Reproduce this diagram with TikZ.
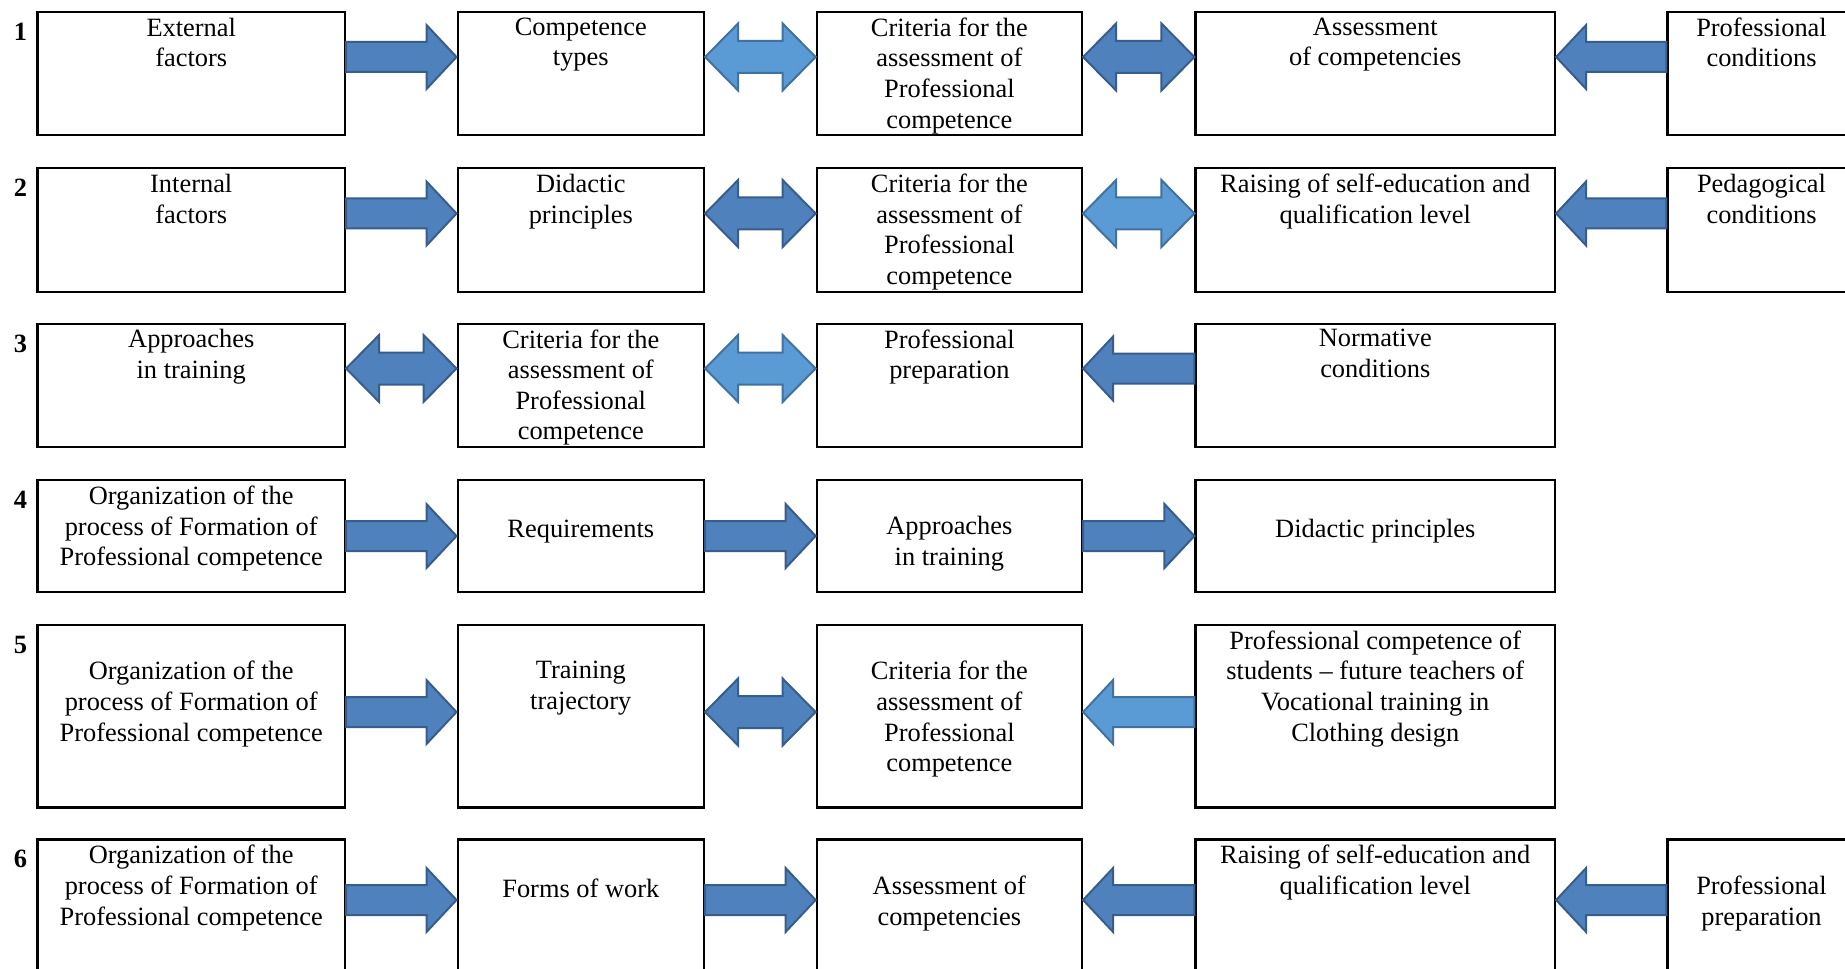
\documentclass[tikz,border=0pt]{standalone}
\usepackage{fontspec}
\setmainfont{Liberation Serif}
\usetikzlibrary{calc,fit}

\definecolor{darkfill}{HTML}{4F81BD}
\definecolor{darkline}{HTML}{385D8A}
\definecolor{lightfill}{HTML}{5B9BD5}
\definecolor{lightline}{HTML}{41719C}

% block arrow: style, tail, tip
\newcommand{\onearrow}[3]{%
  \draw[#1] let \p1=(#2), \p2=(#3), \n1={sign(\x2-\x1)} in
    ({\x1},{\y1+7.5pt}) -- ({\x2-(\n1)*15pt},{\y1+7.5pt}) -- ({\x2-(\n1)*15pt},{\y1+16pt})
    -- ({\x2},{\y1}) -- ({\x2-(\n1)*15pt},{\y1-16pt}) -- ({\x2-(\n1)*15pt},{\y1-7.5pt})
    -- ({\x1},{\y1-7.5pt}) -- cycle;}
% double block arrow: style, left tip, right tip
\newcommand{\twoarrow}[3]{%
  \draw[#1] let \p1=(#2), \p2=(#3) in
    ({\x1},{\y1}) -- ({\x1+16.5pt},{\y1+16.75pt}) -- ({\x1+16.5pt},{\y1+8pt})
    -- ({\x2-16.5pt},{\y1+8pt}) -- ({\x2-16.5pt},{\y1+16.75pt}) -- ({\x2},{\y1})
    -- ({\x2-16.5pt},{\y1-16.75pt}) -- ({\x2-16.5pt},{\y1-8pt}) -- ({\x1+16.5pt},{\y1-8pt})
    -- ({\x1+16.5pt},{\y1-16.75pt}) -- cycle;}

\tikzset{
  box/.style={draw, line width=1.1pt, inner sep=0pt},
  txt/.style={anchor=north, align=center, inner sep=0pt, yshift=-3.3pt,
    font=\fontsize{13.2}{15.3}\selectfont, execute at begin node=\strut},
  txtlow/.style={txt, yshift=-15.3pt},
  num/.style={txt, font=\fontsize{13.2}{15.3}\selectfont\bfseries},
  darkarrow/.style={fill=darkfill, draw=darkline, line width=1pt},
  lightarrow/.style={fill=lightfill, draw=lightline, line width=1pt}
}

\begin{document}
\begin{tikzpicture}[x=0.5pt, y=-0.5pt]
    \useasboundingbox (0,0) rectangle (1845,968);
    \fill[white] (0,0) rectangle (1845,968);
    \clip (0,0) rectangle (1845,968);

    % Boxes and row numbers
    \foreach \r/\ya/\yb/\last in {1/11.8/135.3/5, 2/168.3/291.8/5, 3/323.6/447.2/4,
        4/480/592/4, 5/624.8/807.5/4, 6/839.5/1022/5} {
        \node[num] (n\r) at (20.5,\ya) {\r};
        \foreach \c/\xa/\xb in {1/37.5/345, 2/457.6/704, 3/816.7/1082,
            4/1195.5/1555, 5/1667.5/1855.5} {
            \ifnum\c>\last\relax\else
                \node[box, fit={(\xa,\ya) (\xb,\yb)}] (r\r c\c) {};
            \fi
        }
    }

    % Row 1
    \node[txt] (t1c1) at (r1c1.north) {External\\factors};
    \node[txt] (t1c2) at (r1c2.north) {Competence\\types};
    \node[txt] (t1c3) at (r1c3.north) {Criteria for the\\assessment of\\Professional\\competence};
    \node[txt] (t1c4) at (r1c4.north) {Assessment\\of competencies};
    \node[txt] (t1c5) at (r1c5.north) {Professional\\conditions};

    % Row 2
    \node[txt] (t2c1) at (r2c1.north) {Internal\\factors};
    \node[txt] (t2c2) at (r2c2.north) {Didactic\\principles};
    \node[txt] (t2c3) at (r2c3.north) {Criteria for the\\assessment of\\Professional\\competence};
    \node[txt] (t2c4) at (r2c4.north) {Raising of self-education and\\qualification level};
    \node[txt] (t2c5) at (r2c5.north) {Pedagogical\\conditions};

    % Row 3
    \node[txt] (t3c1) at (r3c1.north) {Approaches\\in training};
    \node[txt] (t3c2) at (r3c2.north) {Criteria for the\\assessment of\\Professional\\competence};
    \node[txt] (t3c3) at (r3c3.north) {Professional\\preparation};
    \node[txt] (t3c4) at (r3c4.north) {Normative\\conditions};

    % Row 4
    \node[txt] (t4c1) at (r4c1.north) {Organization of the\\process of Formation of\\Professional competence};
    \node[txtlow] (t4c2) at (r4c2.north) {Requirements};
    \node[txtlow] (t4c3) at (r4c3.north) {Approaches\\in training};
    \node[txtlow] (t4c4) at (r4c4.north) {Didactic principles};

    % Row 5
    \node[txtlow] (t5c1) at (r5c1.north) {Organization of the\\process of Formation of\\Professional competence};
    \node[txtlow] (t5c2) at (r5c2.north) {Training\\trajectory};
    \node[txtlow] (t5c3) at (r5c3.north) {Criteria for the\\assessment of\\Professional\\competence};
    \node[txt] (t5c4) at (r5c4.north) {Professional competence of\\students -- future teachers of\\Vocational training in\\Clothing design};

    % Row 6
    \node[txt] (t6c1) at (r6c1.north) {Organization of the\\process of Formation of\\Professional competence};
    \node[txtlow] (t6c2) at (r6c2.north) {Forms of work};
    \node[txtlow] (t6c3) at (r6c3.north) {Assessment of\\competencies};
    \node[txt] (t6c4) at (r6c4.north) {Raising of self-education and\\qualification level};
    \node[txtlow] (t6c5) at (r6c5.north) {Professional\\preparation};

    % Arrow levels
    \coordinate (a1) at (0,57);
    \coordinate (a2) at (0,213.5);
    \coordinate (a3) at (0,368.5);
    \coordinate (a4) at (0,536);
    \coordinate (a5) at (0,712);
    \coordinate (a6) at (0,900);

    % Arrows
    \onearrow{darkarrow}{r1c1.east |- a1}{r1c2.west |- a1}
    \twoarrow{lightarrow}{r1c2.east |- a1}{r1c3.west |- a1}
    \twoarrow{darkarrow}{r1c3.east |- a1}{r1c4.west |- a1}
    \onearrow{darkarrow}{r1c5.west |- a1}{r1c4.east |- a1}

    \onearrow{darkarrow}{r2c1.east |- a2}{r2c2.west |- a2}
    \twoarrow{darkarrow}{r2c2.east |- a2}{r2c3.west |- a2}
    \twoarrow{lightarrow}{r2c3.east |- a2}{r2c4.west |- a2}
    \onearrow{darkarrow}{r2c5.west |- a2}{r2c4.east |- a2}

    \twoarrow{darkarrow}{r3c1.east |- a3}{r3c2.west |- a3}
    \twoarrow{lightarrow}{r3c2.east |- a3}{r3c3.west |- a3}
    \onearrow{darkarrow}{r3c4.west |- a3}{r3c3.east |- a3}

    \onearrow{darkarrow}{r4c1.east |- a4}{r4c2.west |- a4}
    \onearrow{darkarrow}{r4c2.east |- a4}{r4c3.west |- a4}
    \onearrow{darkarrow}{r4c3.east |- a4}{r4c4.west |- a4}

    \onearrow{darkarrow}{r5c1.east |- a5}{r5c2.west |- a5}
    \twoarrow{darkarrow}{r5c2.east |- a5}{r5c3.west |- a5}
    \onearrow{lightarrow}{r5c4.west |- a5}{r5c3.east |- a5}

    \onearrow{darkarrow}{r6c1.east |- a6}{r6c2.west |- a6}
    \onearrow{darkarrow}{r6c2.east |- a6}{r6c3.west |- a6}
    \onearrow{darkarrow}{r6c4.west |- a6}{r6c3.east |- a6}
    \onearrow{darkarrow}{r6c5.west |- a6}{r6c4.east |- a6}
\end{tikzpicture}
\end{document}
